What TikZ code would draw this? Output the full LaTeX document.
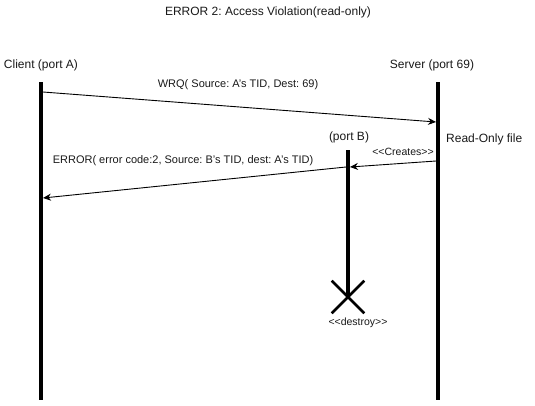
\documentclass[tikz,border=0pt]{standalone}
\usepackage{fontspec}
\setmainfont{Liberation Sans}
\frenchspacing
\definecolor{LineColor}{RGB}{0,0,0}
\definecolor{TextColor}{RGB}{25,25,25}
\usetikzlibrary{positioning, arrows.meta, shapes.misc}
\tikzstyle{lifeline} = [line width=3.6pt, LineColor]
\tikzstyle{message} = [line width=0.9pt, LineColor, -{Stealth[length=8pt, width=7pt]}]
\tikzstyle{partname} = [font=\fontsize{12}{14}\selectfont, TextColor, inner sep=0pt]
\tikzstyle{msgtext} = [font=\fontsize{11}{13}\selectfont, TextColor, inner sep=0pt]
\tikzstyle{stereo} = [font=\fontsize{10.5}{12}\selectfont, TextColor, inner sep=0pt]
\tikzstyle{killmark} = [cross out, draw=LineColor, line width=2.6pt, minimum size=30pt, inner sep=0pt]

\begin{document}
\begin{tikzpicture}[x=1pt, y=-1pt]
                \useasboundingbox (0,0) rectangle (535,405);

                % Title
                \node[partname] (title) at (268,12) {ERROR 2: Access Violation(read-only)};

                % Participants
                \node[partname] (client) at (41,65) {Client (port A)};
                \node[partname] (server) at (432,65) {Server (port 69)};
                \node[partname] (portb) at (349,137) {(port B)};

                % Lifelines
                \coordinate (clientTop) at (41,82);
                \coordinate (clientBot) at (41,400);
                \coordinate (serverTop) at (438,82);
                \coordinate (serverBot) at (438,400);
                \coordinate (portbTop) at (348,150);
                \node[killmark] (kill) at (348,297) {};
                \draw[lifeline] (clientTop) -- (clientBot);
                \draw[lifeline] (serverTop) -- (serverBot);
                \draw[lifeline] (portbTop) -- (kill.center);
                \node[stereo, below=21pt of kill.center, xshift=10pt] (destroy) {{<}{<}destroy{>}{>}};

                % Request
                \coordinate (wrqFrom) at (43,92);
                \coordinate (wrqTo) at (436,122);
                \draw[message] (wrqFrom) -- (wrqTo);
                \node[msgtext] (wrq) at (238,85) {WRQ( Source: A's TID, Dest: 69)};
                \node[partname, anchor=west] (rofile) at (446,139) {Read-Only file};

                % Server creates port B
                \coordinate (createFrom) at (436,161);
                \coordinate (createTo) at (350,167);
                \draw[message] (createFrom) -- (createTo);
                \node[stereo] (creates) at (403,152) {{<}{<}Creates{>}{>}};

                % Error back to client
                \coordinate (errFrom) at (346,167);
                \coordinate (errTo) at (43,198);
                \draw[message] (errFrom) -- (errTo);
                \node[msgtext] (err) at (183,161) {ERROR( error code:2, Source: B's TID, dest: A's TID)};
            \end{tikzpicture}
\end{document}
